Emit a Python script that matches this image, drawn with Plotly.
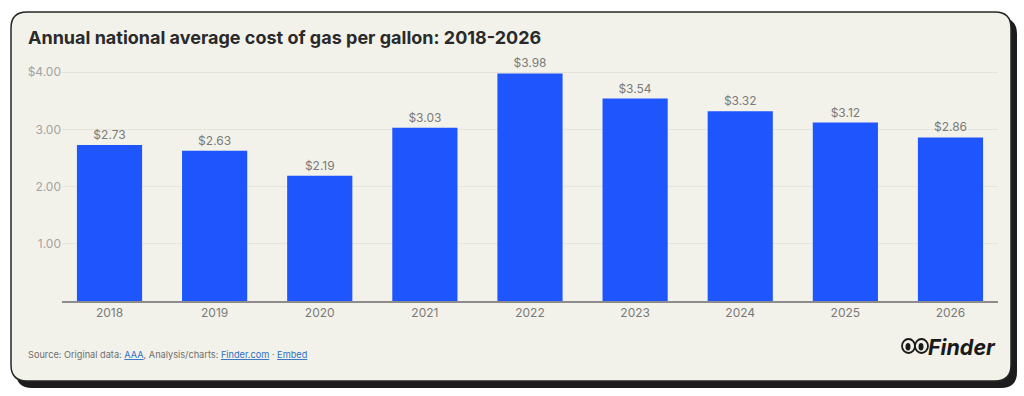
import plotly.graph_objects as go

years = ["2018", "2019", "2020", "2021", "2022", "2023", "2024", "2025", "2026"]
prices = [2.73, 2.63, 2.19, 3.03, 3.98, 3.54, 3.32, 3.12, 2.86]
ytick_vals = [1, 2, 3, 4]
ytick_text = ["1.00", "2.00", "3.00", "$4.00"]

W, H = 1024, 396
BG = "#f3f2ea"
BLUE = "#1f55fd"

def px(x):
    return x / W

def py(y):
    return 1 - y / H

def rrect(x0, y0, x1, y1, r):
    pts = [
        f"M{px(x0 + r)},{py(y0)}",
        f"L{px(x1 - r)},{py(y0)}",
        f"Q{px(x1)},{py(y0)} {px(x1)},{py(y0 + r)}",
        f"L{px(x1)},{py(y1 - r)}",
        f"Q{px(x1)},{py(y1)} {px(x1 - r)},{py(y1)}",
        f"L{px(x0 + r)},{py(y1)}",
        f"Q{px(x0)},{py(y1)} {px(x0)},{py(y1 - r)}",
        f"L{px(x0)},{py(y0 + r)}",
        f"Q{px(x0)},{py(y0)} {px(x0 + r)},{py(y0)}",
        "Z",
    ]
    return " ".join(pts)

fig = go.Figure()
fig.add_trace(go.Bar(
    x=years, y=prices,
    marker=dict(color=BLUE, line=dict(width=0)),
    width=0.62,
    texttemplate="$%{y:.2f}",
    textposition="outside",
    textfont=dict(family="Inter", size=12, color="#7a7a7a"),
    cliponaxis=False,
    hoverinfo="skip",
))

shapes = [
    # shadow
    dict(type="path", xref="paper", yref="paper", layer="below",
         path=rrect(16, 18, 1017, 388, 16), fillcolor="#1c1c1c", line=dict(width=0)),
    # card
    dict(type="path", xref="paper", yref="paper", layer="below",
         path=rrect(11, 12, 1011, 381, 16), fillcolor=BG,
         line=dict(color="#262626", width=1.5)),
]

# Finder logo eyes
for cx in (908.5, 921.5):
    shapes.append(dict(type="circle", xref="paper", yref="paper",
                       x0=px(cx - 6.5), x1=px(cx + 6.5), y0=py(353), y1=py(339),
                       line=dict(color="#1a1a1a", width=1.8), fillcolor=BG))
    shapes.append(dict(type="circle", xref="paper", yref="paper",
                       x0=px(cx - 3), x1=px(cx + 2), y0=py(350.5), y1=py(343),
                       line=dict(width=0), fillcolor="#1a1a1a"))

annotations = [
    dict(text="<b>Annual national average cost of gas per gallon: 2018-2026</b>",
         x=px(26), y=py(38), xref="paper", yref="paper", xanchor="left", yanchor="middle",
         showarrow=False, font=dict(family="Inter", size=18, color="#2a2a2a")),
    dict(text=("Source: Original data: <span style='color:#2c6fc4'><u>AAA</u></span>, "
               "Analysis/charts: <span style='color:#2c6fc4'><u>Finder.com</u></span> · "
               "<span style='color:#2c6fc4'><u>Embed</u></span>"),
         x=px(26), y=py(354), xref="paper", yref="paper", xanchor="left", yanchor="middle",
         showarrow=False, font=dict(family="Inter", size=9.2, color="#6e6e6e")),
    dict(text="<b><i>Finder</i></b>",
         x=px(998), y=py(347), xref="paper", yref="paper", xanchor="right", yanchor="middle",
         showarrow=False, font=dict(family="Inter", size=21.5, color="#1a1a1a")),
]

fig.update_layout(
    width=W, height=H, autosize=False,
    margin=dict(l=0, r=0, t=0, b=0),
    paper_bgcolor="#ffffff", plot_bgcolor="rgba(0,0,0,0)",
    showlegend=False,
    bargap=0.38,
    shapes=shapes,
    annotations=annotations,
    xaxis=dict(
        domain=[px(62), px(998)],
        range=[-0.452, 8.452],
        showline=True, linecolor="#8c8c8c", linewidth=1.5,
        showgrid=False, ticks="", ticklen=0,
        tickfont=dict(family="Inter", size=12, color="#7a7a7a"),
        fixedrange=True,
    ),
    yaxis=dict(
        domain=[1 - 301 / H, 1 - 58 / H],
        range=[0, 4.25],
        tickvals=ytick_vals, ticktext=ytick_text,
        showgrid=True, gridcolor="#e6e5dc", gridwidth=1,
        zeroline=False, showline=False,
        tickfont=dict(family="Inter", size=12, color="#a3a3a3"),
        ticks="", ticklen=0,
        fixedrange=True,
    ),
)

fig.write_html("out.html", config={"displayModeBar": False},
               post_script="document.body.style.margin='0';")
